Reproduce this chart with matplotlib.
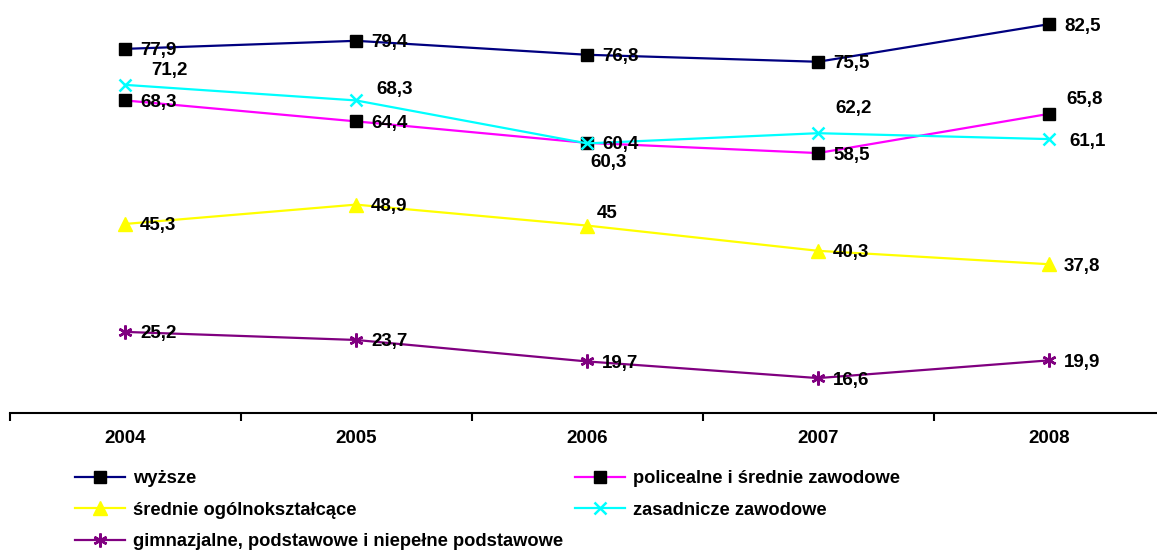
import matplotlib
matplotlib.use("Agg")
import matplotlib.pyplot as plt

years = ["2004", "2005", "2006", "2007", "2008"]
wyzsze = [77.9, 79.4, 76.8, 75.5, 82.5]
policealne = [68.3, 64.4, 60.4, 58.5, 65.8]
srednie = [45.3, 48.9, 45.0, 40.3, 37.8]
zasadnicze = [71.2, 68.3, 60.3, 62.2, 61.1]
gimnazjalne = [25.2, 23.7, 19.7, 16.6, 19.9]

labels = ["wyższe", "policealne i średnie zawodowe", "średnie ogólnokształcące",
          "zasadnicze zawodowe", "gimnazjalne, podstawowe i niepełne podstawowe"]

plt.rcParams['font.family'] = ['Liberation Sans', 'DejaVu Sans']

W, H = 1157, 550
fig = plt.figure(figsize=(W / 100, H / 100), dpi=100)
step = 231
left_px = 125 - step / 2
ax = fig.add_axes([left_px / W, (H - 413) / H, 5 * step / W, 413 / H])
ax.set_xlim(-0.5, 4.5)
ax.set_ylim(10.1, 87.0)

x = list(range(len(years)))
lw = 1.6
h1, = ax.plot(x, wyzsze, color="#000080", lw=lw, marker="s", ms=8.5,
              mfc="black", mec="black", zorder=5)
h2, = ax.plot(x, policealne, color="#FF00FF", lw=lw, marker="s", ms=8.5,
              mfc="black", mec="black", zorder=4)
h3, = ax.plot(x, srednie, color="#FFFF00", lw=lw, marker="^", ms=10,
              mfc="#FFFF00", mec="#FFFF00", zorder=3)
h4, = ax.plot(x, zasadnicze, color="#00FFFF", lw=lw, marker="x", ms=9,
              mew=1.8, zorder=6)
h5, = ax.plot(x, gimnazjalne, color="#800080", lw=lw, marker=(6, 2, 0), ms=10,
              mew=1.8, zorder=3)

fs = 13.5
def lab(xi, yi, txt, dx=15, dy=0, ha="left", va="center"):
    ax.annotate(txt, (xi, yi), xytext=(dx, dy - 2), textcoords="offset pixels",
                ha=ha, va=va, fontsize=fs, fontweight="bold", zorder=10)

def fmt(v):
    s = ("%.1f" % v).replace(".", ",")
    if s.endswith(",0"):
        s = s[:-2]
    return s

for i, v in enumerate(wyzsze):
    lab(i, v, fmt(v))
po_off = [(15, 0), (15, 0), (15, 0), (15, 0), (17, 16)]
for i, v in enumerate(policealne):
    lab(i, v, fmt(v), po_off[i][0], po_off[i][1])
for i, v in enumerate(gimnazjalne):
    lab(i, v, fmt(v))
sr_off = [(15, 0), (15, 0), (10, 14), (15, 0), (15, 0)]
for i, v in enumerate(srednie):
    lab(i, v, fmt(v), sr_off[i][0], sr_off[i][1])
za_off = [(26, 16), (20, 13), (3, -17), (17, 27), (20, 0)]
for i, v in enumerate(zasadnicze):
    lab(i, v, fmt(v), za_off[i][0], za_off[i][1])

for s in ["top", "right", "left"]:
    ax.spines[s].set_visible(False)
ax.spines["bottom"].set_linewidth(1.5)
ax.set_yticks([])
ax.set_xticks(x)
ax.set_xticklabels(years, fontsize=fs, fontweight="bold")
ax.tick_params(axis="x", which="major", length=0, pad=12)
ax.set_xticks([i - 0.5 for i in range(6)], minor=True)
ax.tick_params(axis="x", which="minor", length=6, width=1.5, direction="out")

lfs = 13.2
leg = fig.legend([h1, h3, h5, h2, h4],
                 [labels[0], labels[2], labels[4], labels[1], labels[3]],
                 ncol=2, loc="upper left", bbox_to_anchor=(75 / W, 1 - 470 / H),
                 frameon=False, prop={"size": lfs, "weight": "bold"},
                 handlelength=2.75, handletextpad=0.4, labelspacing=0.8,
                 columnspacing=0.65, borderpad=0, borderaxespad=0)

fig.savefig("out.png", dpi=100)
